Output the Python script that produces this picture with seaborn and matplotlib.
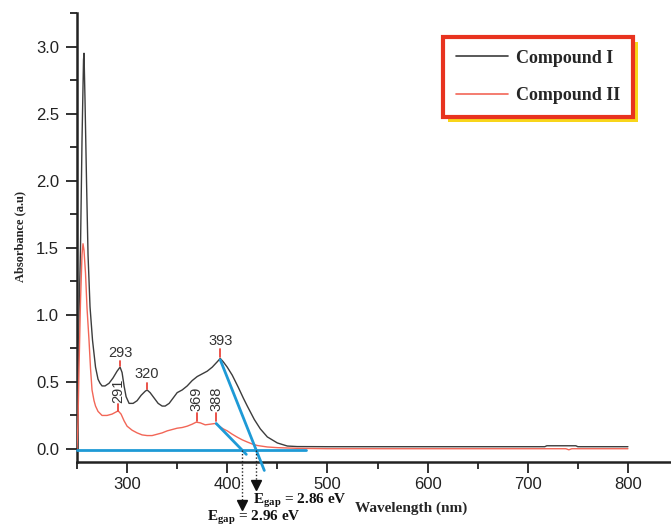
import numpy as np
import pandas as pd
import matplotlib
matplotlib.use("Agg")
import matplotlib.pyplot as plt
import seaborn as sns
from matplotlib.font_manager import FontProperties
from matplotlib.patches import Rectangle

# ---------------- data ----------------
wl_c1 = [250, 251, 252, 253.5, 255, 256.5, 257, 258, 259.5, 261, 263, 265.5, 268.5, 271, 273, 275,
         278, 282, 286, 290, 293, 295, 297, 299, 302, 306, 310, 314, 318, 320, 323, 327, 331, 335,
         338, 342, 346, 350, 355, 360, 365, 370, 375, 380, 385, 390, 393, 396, 400, 405, 411, 416,
         420, 427, 433, 440, 450, 460, 470, 500, 600, 700, 717, 719, 748, 750, 800]
abs_c1 = [0.05, 0.5, 1.0, 1.5, 2.3, 2.9, 2.95, 2.6, 2.0, 1.45, 1.06, 0.81, 0.61, 0.52, 0.49, 0.47,
          0.47, 0.49, 0.53, 0.58, 0.61, 0.57, 0.47, 0.39, 0.34, 0.34, 0.36, 0.40, 0.43, 0.44, 0.42, 0.38, 0.34, 0.32,
          0.32, 0.34, 0.38, 0.42, 0.44, 0.47, 0.51, 0.54, 0.56, 0.58, 0.61, 0.65, 0.675, 0.65, 0.61, 0.55, 0.46, 0.38,
          0.32, 0.22, 0.15, 0.09, 0.045, 0.022, 0.018, 0.017, 0.017, 0.017, 0.017, 0.024, 0.024, 0.017, 0.017]

wl_c2 = [250, 251, 252, 253.5, 255, 256, 257, 258.5, 260, 262, 263.5, 265, 267, 268.5, 271, 275, 280,
         285, 290, 291, 294, 297, 300, 305, 310, 315, 320, 325, 330, 335, 340, 345, 350, 355, 360, 365,
         369, 373, 378, 383, 388, 392, 396, 400, 405, 410, 415, 420, 425, 430, 440, 450, 470, 500,
         700, 738, 741, 744, 800]
abs_c2 = [0.0, 0.2, 0.6, 1.1, 1.45, 1.53, 1.48, 1.31, 1.05, 0.81, 0.6, 0.44, 0.36, 0.32, 0.28, 0.25, 0.25,
          0.26, 0.28, 0.285, 0.26, 0.21, 0.17, 0.14, 0.12, 0.105, 0.10, 0.10, 0.11, 0.12, 0.135, 0.145, 0.155, 0.16, 0.17, 0.185,
          0.20, 0.195, 0.18, 0.185, 0.19, 0.17, 0.15, 0.135, 0.11, 0.088, 0.068, 0.052, 0.037, 0.026, 0.015, 0.01, 0.005, 0.002,
          0.002, 0.002, -0.006, 0.002, 0.002]

series_names = ["Compound I", "Compound II"]

# peak annotations: (x, tick bottom, tick top, label, rotation)
peak_x = [293, 320, 393, 291, 369.5, 389]
peak_tick_lo = [0.615, 0.445, 0.685, 0.285, 0.21, 0.21]
peak_tick_hi = [0.655, 0.495, 0.745, 0.335, 0.27, 0.27]
peak_text = ["293", "320", "393", "291", "369", "388"]
peak_rot = [0, 0, 0, 90, 90, 90]

# band-gap construction
baseline_x = [250, 479]
baseline_y = [-0.01, -0.01]
tangent1_x = [393, 437]
tangent1_y = [0.665, -0.16]
tangent2_x = [389, 419]
tangent2_y = [0.19, -0.04]
gap_x = [429, 415]
gap_tip_y = [-0.30, -0.455]
gap_labels = ["2.86 eV", "2.96 eV"]
gap_label_xy = [(426, -0.405), (379.5, -0.53)]

# ---------------- style ----------------
sns.set_theme(style="ticks")
plt.rcParams["font.family"] = ["Liberation Sans", "DejaVu Sans"]
plt.rcParams["mathtext.fontset"] = "custom"
plt.rcParams["mathtext.bf"] = "Liberation Serif:bold"
plt.rcParams["mathtext.rm"] = "Liberation Serif"

fig = plt.figure(figsize=(6.71, 5.27), dpi=100)
ax = fig.add_axes([77 / 671, 65 / 527, (671 - 77) / 671, (462 - 13) / 527])

df1 = pd.DataFrame({"wl": wl_c1, "A": abs_c1})
df2 = pd.DataFrame({"wl": wl_c2, "A": abs_c2})
sns.lineplot(data=df1, x="wl", y="A", ax=ax, color="#3c3c3c", lw=1.0, label=series_names[0], zorder=3)
sns.lineplot(data=df2, x="wl", y="A", ax=ax, color="#f26657", lw=1.0, label=series_names[1], zorder=3)

blue = "#1e9ad6"
ax.plot(baseline_x, baseline_y, color=blue, lw=2.0, clip_on=False, zorder=4)
ax.plot(tangent1_x, tangent1_y, color=blue, lw=2.0, clip_on=False, zorder=4)
ax.plot(tangent2_x, tangent2_y, color=blue, lw=2.0, clip_on=False, zorder=4)

for gx, gy in zip(gap_x, gap_tip_y):
    ax.plot([gx, gx], [-0.01, gy + 0.03], color="#222222", lw=1.0, ls=(0, (1, 1.5)), clip_on=False, zorder=4)
    ax.plot([gx], [gy + 0.035], marker="v", color="#111111", markersize=7, clip_on=False, zorder=5)

serif_bold = FontProperties(family="Liberation Serif", weight="bold", size=11)
for lab, (tx, ty) in zip(gap_labels, gap_label_xy):
    ax.text(tx, ty, r"$\mathbf{E}_{\mathbf{gap}}$ = " + lab, fontproperties=serif_bold,
            ha="left", va="baseline", color="#111111", clip_on=False)

for px, lo, hi, t, r in zip(peak_x, peak_tick_lo, peak_tick_hi, peak_text, peak_rot):
    ax.plot([px, px], [lo, hi], color="#e8453c", lw=1.3, zorder=4)
    ax.text(px, hi + 0.01, t, rotation=r, ha="center", va="bottom", fontsize=10.5,
            color="#333333", family="Liberation Sans")

ax.set_xlim(250, 843)
ax.set_ylim(-0.097, 3.246)
ax.set_xticks([300, 400, 500, 600, 700, 800])
ax.set_xticks(np.arange(250, 843, 50), minor=True)
ax.set_yticks([0.0, 0.5, 1.0, 1.5, 2.0, 2.5, 3.0])
ax.set_yticks(np.arange(0, 3.26, 0.25), minor=True)
ax.set_yticklabels(["0.0", "0.5", "1.0", "1.5", "2.0", "2.5", "3.0"])
ax.tick_params(axis="both", which="major", direction="out", length=8, width=1.3, labelsize=12,
               colors="#222222")
ax.tick_params(axis="both", which="minor", direction="out", length=5, width=1.3, colors="#222222")
ax.tick_params(axis="x", which="major", pad=3)
ax.tick_params(axis="y", which="major", pad=5)
for lbl in ax.get_xticklabels() + ax.get_yticklabels():
    lbl.set_family("Liberation Sans")

sns.despine(ax=ax)
for s in ["left", "bottom"]:
    ax.spines[s].set_linewidth(1.8)
    ax.spines[s].set_color("#222222")
ax.grid(False)

ax.set_xlabel("Wavelength (nm)", fontproperties=FontProperties(family="Liberation Serif", weight="bold", size=11))
ax.xaxis.set_label_coords(0.563, -0.088)
ax.set_ylabel("Absorbance (a.u)", fontproperties=FontProperties(family="Liberation Serif", weight="bold", size=9))
ax.yaxis.set_label_coords(-0.085, 0.503)

leg = ax.legend(loc="upper left", bbox_to_anchor=(443 / 671, 1 - 37 / 527), bbox_transform=fig.transFigure,
                borderaxespad=0, frameon=True, fancybox=False, framealpha=1,
                prop=FontProperties(family="Liberation Serif", weight="bold", size=13),
                handlelength=2.9, handletextpad=0.45, labelspacing=1.15, borderpad=0.7)
leg.get_frame().set_edgecolor("#e8331f")
leg.get_frame().set_linewidth(3)
for h in leg.get_lines():
    h.set_linewidth(1.2)
leg.set_zorder(6)

fig.canvas.draw()
bb = leg.get_frame().get_window_extent().transformed(fig.transFigure.inverted())
shadow = Rectangle((bb.x0 + 5 / 671, bb.y0 - 5 / 527), bb.width, bb.height, transform=fig.transFigure,
                   facecolor="#f8d51a", edgecolor="none", clip_on=False, zorder=5.5)
ax.add_patch(shadow)

fig.savefig("out.png", dpi=100)
